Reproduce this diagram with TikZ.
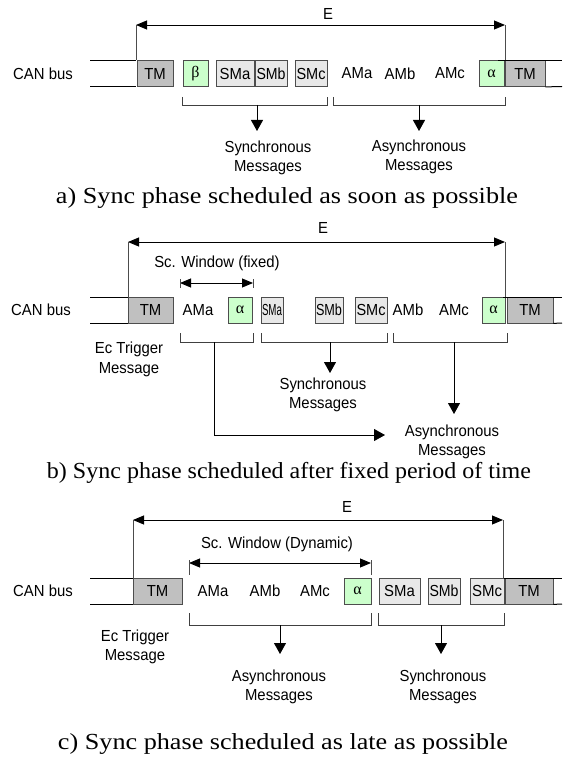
\documentclass[tikz,border=0pt]{standalone}
\usepackage{fontspec}
\setmainfont{Liberation Serif}
\setsansfont{Liberation Sans}[FakeStretch=0.93]
\usetikzlibrary{arrows.meta}
\definecolor{tmgray}{HTML}{C0C0C0}
\definecolor{smgray}{HTML}{E8E8E8}
\definecolor{agreen}{HTML}{CCFFCC}
\definecolor{edgec}{HTML}{4D4D4D}
\newcommand{\sqz}[2]{\resizebox{#1}{\height}{#2}}
\begin{document}
\begin{tikzpicture}[x=1pt,y=-1pt,
 lbl/.style={font=\sffamily\fontsize{16}{19.5}\selectfont, inner sep=0, align=center},
 cell/.style={draw=edgec, line width=0.8pt, inner sep=0, minimum height=26pt, font=\sffamily\fontsize{16}{18}\selectfont},
 tmcell/.style={cell, fill=tmgray},
 smcell/.style={cell, fill=smgray},
 grcell/.style={cell, fill=agreen, font=\rmfamily\fontsize{16}{18}\selectfont},
 bus/.style={line width=1pt},
 guide/.style={draw=black!70, line width=0.7pt},
 dim/.style={line width=0.9pt, {Triangle[length=11pt,width=9pt]}-{Triangle[length=11pt,width=9pt]}},
 brk/.style={draw=black!75, line width=0.8pt},
 down/.style={line width=0.9pt, -{Triangle[length=11pt,width=12pt]}},
 captxt/.style={font=\rmfamily\fontsize{23}{26}\selectfont, inner sep=0, anchor=base}
]
\useasboundingbox (0,0) rectangle (562,773);

%%%%%%%%%%%%%%%% Panel a
\coordinate (a-eL) at (136,25);
\coordinate (a-eR) at (505,25);
\draw[dim] (a-eL) -- (a-eR);
\node[lbl] (a-E) at (328,14) {E};
\draw[guide] (a-eL) -- (136,60.5);
\draw[guide] (a-eR) -- (505,60.5);

\node[lbl] (a-can) at (43,73.5) {CAN bus};
\draw[bus] (90,60.5) -- (136,60.5);
\draw[bus] (90,86.5) -- (136,86.5);
\node[tmcell, minimum width=36pt] (a-tm1) at (155,73.5) {TM};
\node[grcell, minimum width=25pt] (a-beta) at (195.5,73.5) {β};
\node[smcell, minimum width=38pt] (a-sma) at (235,73.5) {SMa};
\node[smcell, minimum width=32pt] (a-smb) at (271,73.5) {\sqz{29pt}{SMb}};
\node[smcell, minimum width=32pt] (a-smc) at (311,73.5) {\sqz{29pt}{SMc}};
\node[lbl] (a-ama) at (357,73.5) {AMa};
\node[lbl] (a-amb) at (400,73.5) {AMb};
\node[lbl] (a-amc) at (450,73.5) {AMc};
\node[grcell, minimum width=25pt] (a-alpha) at (491.5,73.5) {α};
\node[tmcell, minimum width=40pt] (a-tm2) at (525,73.5) {TM};
\draw[bus] (498,60.5) -- (562,60.5);
\draw[bus] (a-tm2.south east) -- (562,86.5);

\draw[brk] (182,97) -- (182,105) -- (327,105) -- (327,97);
\draw[brk] (333,97) -- (333,105) -- (505,105) -- (505,97);
\coordinate (a-s1) at (257,105);
\coordinate (a-t1) at (257,131);
\coordinate (a-s2) at (419,105);
\coordinate (a-t2) at (419,131);
\draw[down] (a-s1) -- (a-t1);
\draw[down] (a-s2) -- (a-t2);
\node[lbl] (a-sync) at (268,158) {Synchronous\\Messages};
\node[lbl] (a-async) at (419,157) {Asynchronous\\Messages};
\node[captxt] (a-cap) at (287,203) {\sqz{462pt}{a) Sync phase scheduled as soon as possible}};

%%%%%%%%%%%%%%%% Panel b
\coordinate (b-eL) at (128,242);
\coordinate (b-eR) at (505,242);
\draw[dim] (b-eL) -- (b-eR);
\node[lbl] (b-E) at (323,228) {E};
\draw[guide] (b-eL) -- (128,297);
\draw[guide] (b-eR) -- (505,297);

\node[lbl] (b-win) at (217,263) {Sc. Window (fixed)};
\coordinate (b-wL) at (180,283);
\coordinate (b-wR) at (253,283);
\draw[dim] (b-wL) -- (b-wR);
\draw[guide] (180,279) -- (180,288);
\draw[guide] (253,279) -- (253,288);

\node[lbl] (b-can) at (41,310) {CAN bus};
\draw[bus] (90,297) -- (128,297);
\draw[bus] (90,323) -- (128,323);
\node[tmcell, minimum width=45pt] (b-tm1) at (150.5,310) {TM};
\node[lbl] (b-ama) at (198,310) {AMa};
\node[grcell, minimum width=24pt] (b-alpha1) at (240,310) {α};
\node[smcell, minimum width=22pt] (b-sma) at (272,310) {\sqz{20pt}{SMa}};
\node[smcell, minimum width=28pt] (b-smb) at (329,310) {\sqz{26pt}{SMb}};
\node[smcell, minimum width=32pt] (b-smc) at (371,310) {\sqz{29pt}{SMc}};
\node[lbl] (b-amb) at (408,310) {AMb};
\node[lbl] (b-amc) at (454,310) {AMc};
\node[grcell, minimum width=23pt] (b-alpha2) at (493.5,310) {α};
\node[tmcell, minimum width=46pt] (b-tm2) at (530,310) {TM};
\draw[bus] (503,297) -- (562,297);
\draw[bus] (b-tm2.south east) -- (562,323);

\draw[brk] (180,333) -- (180,342) -- (253,342) -- (253,333);
\draw[brk] (261,333) -- (261,342) -- (387,342) -- (387,333);
\draw[brk] (393,333) -- (393,342) -- (507,342) -- (507,333);

\node[lbl] (b-ec) at (129,359.5) {Ec Trigger\\Message};
\node[lbl] (b-sync) at (323,395) {Synchronous\\Messages};
\node[lbl] (b-async) at (452,442) {Asynchronous\\Messages};

\coordinate (b-s1) at (214,342);
\coordinate (b-k1) at (214,435);
\coordinate (b-t1) at (385,435);
\draw[down] (b-s1) -- (b-k1) -- (b-t1);
\coordinate (b-s2) at (330,342);
\coordinate (b-t2) at (330,373);
\draw[down] (b-s2) -- (b-t2);
\coordinate (b-s3) at (454,342);
\coordinate (b-t3) at (454,414);
\draw[down] (b-s3) -- (b-t3);
\node[captxt] (b-cap) at (289,478) {\sqz{484pt}{b) Sync phase scheduled after fixed period of time}};

%%%%%%%%%%%%%%%% Panel c
\coordinate (c-eL) at (133,520);
\coordinate (c-eR) at (503,520);
\draw[dim] (c-eL) -- (c-eR);
\node[lbl] (c-E) at (347,507) {E};
\draw[guide] (c-eL) -- (133,578);
\draw[guide] (c-eR) -- (503,578);

\node[lbl] (c-win) at (277,544) {Sc. Window (Dynamic)};
\coordinate (c-wL) at (189,563);
\coordinate (c-wR) at (371,563);
\draw[dim] (c-wL) -- (c-wR);
\draw[guide] (189,560) -- (189,575);
\draw[guide] (371,560) -- (371,575);

\node[lbl] (c-can) at (43,591) {CAN bus};
\draw[bus] (90,578) -- (133,578);
\draw[bus] (90,604) -- (133,604);
\node[tmcell, minimum width=49pt] (c-tm1) at (157.5,591) {TM};
\node[lbl] (c-ama) at (213,591) {AMa};
\node[lbl] (c-amb) at (265,591) {AMb};
\node[lbl] (c-amc) at (315,591) {AMc};
\node[grcell, minimum width=27pt] (c-alpha) at (357.5,591) {α};
\node[smcell, minimum width=41pt] (c-sma) at (399.5,591) {SMa};
\node[smcell, minimum width=32pt] (c-smb) at (444,591) {\sqz{29pt}{SMb}};
\node[smcell, minimum width=34pt] (c-smc) at (487,591) {\sqz{30pt}{SMc}};
\node[tmcell, minimum width=48pt] (c-tm2) at (529,591) {TM};
\draw[bus] (504,578) -- (562,578);
\draw[bus] (c-tm2.south east) -- (562,604);

\draw[brk] (189,613) -- (189,625) -- (371,625) -- (371,613);
\draw[brk] (378,613) -- (378,625) -- (504,625) -- (504,613);
\coordinate (c-s1) at (280,625);
\coordinate (c-t1) at (280,654);
\coordinate (c-s2) at (441,625);
\coordinate (c-t2) at (441,654);
\draw[down] (c-s1) -- (c-t1);
\draw[down] (c-s2) -- (c-t2);

\node[lbl] (c-ec) at (135,647) {Ec Trigger\\Message};
\node[lbl] (c-async) at (279,687) {Asynchronous\\Messages};
\node[lbl] (c-sync) at (443,687) {Synchronous\\Messages};
\node[captxt] (c-cap) at (283,749) {\sqz{450pt}{c) Sync phase scheduled as late as possible}};
\end{tikzpicture}
\end{document}
